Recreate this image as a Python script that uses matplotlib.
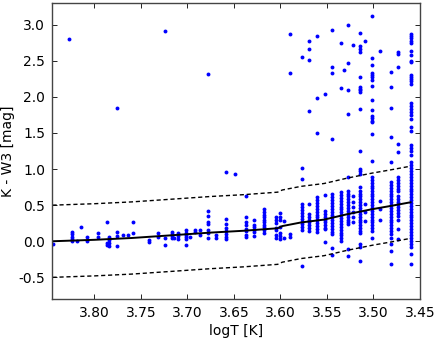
import numpy as np
import matplotlib
matplotlib.use('Agg')
import matplotlib.pyplot as plt
from matplotlib.ticker import FormatStrFormatter

# logT columns and the K - W3 values measured in each
logt_cols = [
    3.845, 3.827, 3.824, 3.819, 3.814, 3.808, 3.796, 3.786, 3.784, 3.776,
    3.769, 3.764, 3.759, 3.741, 3.732, 3.724, 3.717, 3.714, 3.710, 3.702,
    3.697, 3.692, 3.686, 3.678, 3.669, 3.659, 3.649, 3.637, 3.628, 3.618,
    3.605, 3.600, 3.596, 3.590, 3.577, 3.569, 3.561, 3.552, 3.544, 3.535,
    3.532, 3.527, 3.522, 3.514, 3.509, 3.501, 3.493, 3.481, 3.473, 3.460,
]
kw3_cols = [
    [-0.04],
    [2.80],
    [0.135, 0.097, 0.06, 0.028, 0.0],
    [0.0],
    [0.20],
    [0.065, 0.0],
    [0.11, 0.06],
    [0.26, -0.02, -0.055],
    [0.055, 0.02, -0.03, -0.07],
    [1.85, 0.135, 0.075, -0.06],
    [0.08],
    [0.09],
    [0.26, 0.11],
    [0.014, -0.01],
    [0.12, 0.06],
    [2.91, 0.05, -0.05],
    [0.125, 0.097, 0.07, 0.04],
    [0.05],
    [0.11, 0.075, 0.025],
    [0.15, 0.12, 0.09, 0.06, 0.025, -0.055],
    [0.06],
    [0.15, 0.125],
    [0.15, 0.09],
    [2.32, 0.425, 0.35, 0.27, 0.235, 0.15, 0.115, 0.04],
    [0.08, 0.04],
    [0.96, 0.305, 0.235, 0.185, 0.14, 0.10, 0.065, 0.028],
    [0.93],
    [0.62, 0.34, 0.27, 0.22, 0.175, 0.14, 0.09, 0.065],
    [0.30, 0.23, 0.195, 0.157, 0.125, 0.07],
    [0.44, 0.40, 0.365, 0.33, 0.30, 0.265, 0.23, 0.195, 0.16, 0.115],
    [0.34, 0.30, 0.25, 0.19, 0.15, 0.085, 0.046],
    [0.39, 0.34, 0.30, 0.20, 0.12, 0.075, 0.03],
    [0.28, 0.04],
    [2.87, 2.33, 0.10, 0.06],
    [2.555, 1.02, 0.86, 0.51, 0.47, 0.43, 0.39, 0.35, 0.31, 0.27, 0.235,
     0.20, 0.157, -0.34],
    [2.77, 2.66, 2.51, 1.80, 0.51, 0.375, 0.34, 0.30, 0.26, 0.22, 0.18, 0.145],
    [2.84, 1.98, 1.50, 0.61, 0.57, 0.53, 0.49, 0.45, 0.41, 0.37, 0.33, 0.29,
     0.25, 0.21, 0.167, 0.13],
    [2.04, 0.64, 0.42, 0.38, 0.34, 0.30, 0.26, 0.22, 0.19, 0.167, -0.01],
    [2.92, 2.42, 2.33, 1.41, 0.65, 0.61, 0.57, 0.53, 0.49, 0.45, 0.41, 0.37,
     0.33, 0.29, 0.25, 0.21, 0.17, 0.13, 0.10, -0.10, -0.19],
    [2.75, 2.13, 0.685, 0.64, 0.60, 0.56, 0.52, 0.48, 0.44, 0.40, 0.36, 0.32,
     0.28, 0.24, 0.20, 0.16, 0.12, 0.08, 0.04, 0.005],
    [2.375],
    [2.995, 2.47, 2.09, 1.76, 0.89, 0.70, 0.66, 0.62, 0.58, 0.54, 0.50, 0.46,
     0.42, 0.38, 0.34, 0.30, 0.27, 0.235, -0.11, -0.21],
    [2.72, 0.63, 0.55, 0.47, 0.40, 0.33, 0.26],
    [2.88, 2.70, 2.67, 2.62, 2.27, 2.135, 2.11, 2.09, 2.065, 1.83, 1.25, 1.0,
     0.97, 0.93, 0.745, 0.70, 0.66, 0.62, 0.58, 0.54, 0.50, 0.46, 0.42, 0.38,
     0.34, 0.30, 0.26, 0.22, 0.18, 0.14, 0.12, -0.04, -0.08, -0.28],
    [2.77, 0.51, 0.40, 0.28],
    [3.115, 2.545, 2.44, 2.33, 2.30, 2.28, 2.24, 2.15, 1.96, 1.82, 1.73, 1.71,
     1.67, 1.65, 1.48, 1.11, 0.885, 0.85, 0.81, 0.77, 0.74, 0.70, 0.66, 0.62,
     0.58, 0.54, 0.50, 0.46, 0.42, 0.38, 0.34, 0.30, 0.26, 0.22, 0.18, 0.145,
     0.04],
    [2.63, 0.56, 0.445, 0.29],
    [2.34, 2.14, 1.84, 1.45, 1.10, 0.815, 0.78, 0.74, 0.70, 0.66, 0.62, 0.58,
     0.54, 0.50, 0.46, 0.42, 0.38, 0.34, 0.30, 0.26, 0.22, 0.18, 0.14, 0.10,
     0.05, -0.04, -0.13, -0.32],
    [2.615, 2.60, 2.41, 1.35, 1.24, 0.885, 0.85, 0.81, 0.77, 0.73, 0.70, 0.63,
     0.59, 0.55, 0.51, 0.47, 0.43, 0.39, 0.35, 0.30, 0.167, 0.03],
    [2.87, 2.84, 2.81, 2.78, 2.74, 2.64, 2.58, 2.50, 2.49, 2.31, 2.28, 2.25,
     2.22, 2.18, 1.92, 1.875, 1.83, 1.79, 1.75, 1.70, 1.58, 1.53, 1.34, 1.29,
     1.25, 1.19, 1.10, 1.05, 1.01, 0.97, 0.93, 0.89, 0.85, 0.81, 0.77, 0.73,
     0.69, 0.65, 0.61, 0.57, 0.53, 0.49, 0.45, 0.41, 0.37, 0.33, 0.29, 0.25,
     0.21, 0.17, 0.13, 0.09, 0.05, 0.01, -0.04, -0.08, -0.18, -0.32],
]

# mean relation and its +/- band
logt_line = [3.845, 3.80, 3.76, 3.72, 3.675, 3.64, 3.603, 3.598, 3.578,
             3.553, 3.528, 3.501, 3.481, 3.460]
kw3_line = [0.0, 0.02, 0.045, 0.08, 0.12, 0.145, 0.18, 0.21, 0.26,
            0.30, 0.375, 0.445, 0.49, 0.54]
band = 0.5

xs = np.concatenate([[t] * len(v) for t, v in zip(logt_cols, kw3_cols)])
ys = np.concatenate([np.array(v, dtype=float) for v in kw3_cols])
kw3_line = np.array(kw3_line)

plt.rcParams['font.family'] = 'DejaVu Sans'
plt.rcParams['font.size'] = 10

fig = plt.figure(figsize=(4.36, 3.39), dpi=100)
ax = fig.add_axes([0.119, 0.118, 0.844, 0.873])

ax.plot(xs, ys, 'o', color='b', ms=2.8, mew=0)
ax.plot(logt_line, kw3_line, '-', color='k', lw=1.4)
ax.plot(logt_line, kw3_line + band, '--', color='k', lw=1.0, dashes=(3, 2))
ax.plot(logt_line, kw3_line - band, '--', color='k', lw=1.0, dashes=(3, 2))

ax.set_xlim(3.8457, 3.45)
ax.set_ylim(-0.8, 3.3)
ax.set_xticks([3.80, 3.75, 3.70, 3.65, 3.60, 3.55, 3.50, 3.45])
ax.set_yticks([-0.5, 0.0, 0.5, 1.0, 1.5, 2.0, 2.5, 3.0])
ax.xaxis.set_major_formatter(FormatStrFormatter('%.2f'))
ax.yaxis.set_major_formatter(FormatStrFormatter('%.1f'))
ax.tick_params(direction='in', top=True, right=True, length=3.5, width=0.6,
               labelsize=10, pad=5)
for s in ax.spines.values():
    s.set_linewidth(1.0)
    s.set_color('#444444')

ax.set_xlabel('logT [K]', fontsize=10, labelpad=3)
ax.set_ylabel('K - W3 [mag]', fontsize=10)
# place the y label just inside the left edge of the figure
ax.yaxis.set_label_coords(-0.1, 0.5)

fig.savefig('out.png', dpi=100)
